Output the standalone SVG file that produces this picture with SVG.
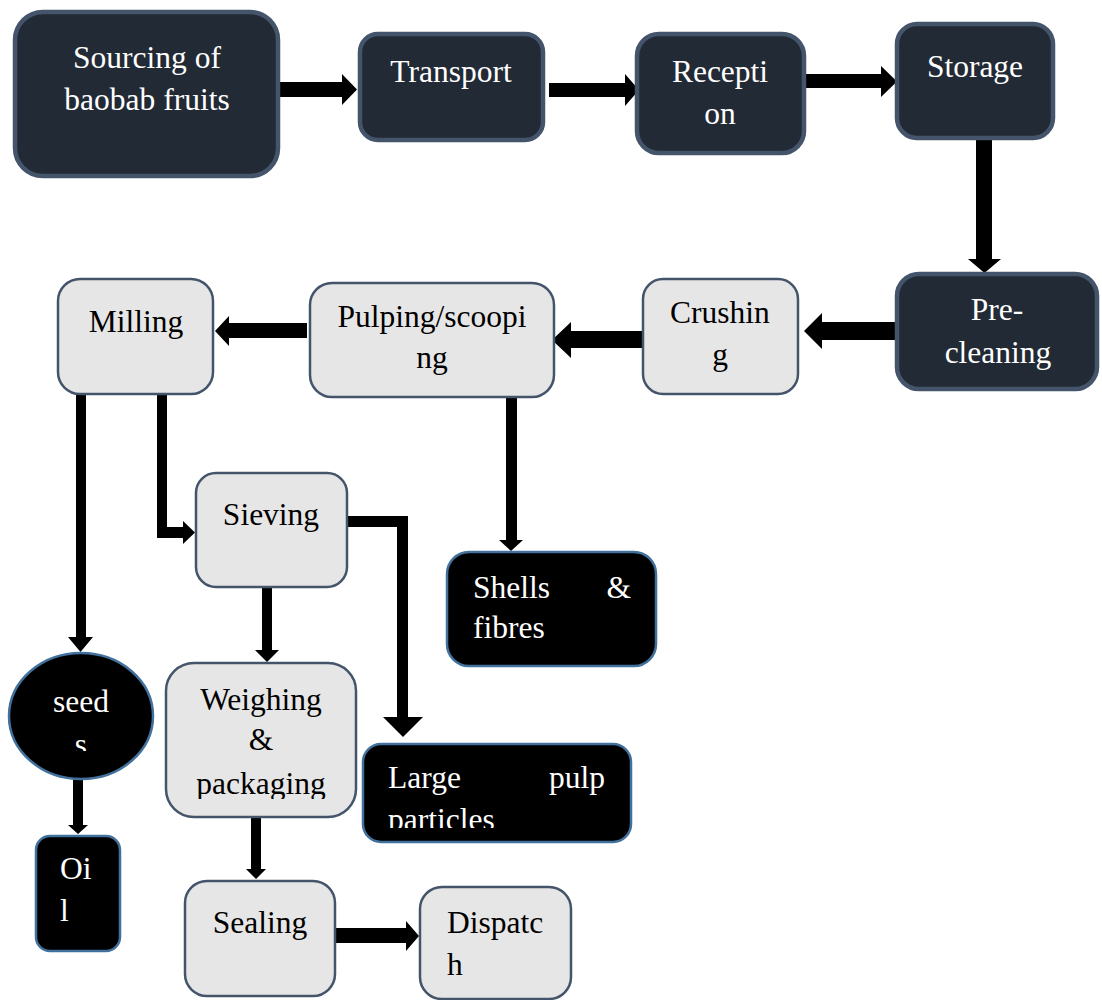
<svg xmlns="http://www.w3.org/2000/svg" width="1102" height="1000" viewBox="0 0 1102 1000">
<style>
  .dark rect{fill:#222A35;stroke:#44546A;stroke-width:4.5}
  .light rect{fill:#E7E6E6;stroke:#44546A;stroke-width:2.5}
  .blk rect,.blk ellipse{fill:#000;stroke:#41719C;stroke-width:2.5}
  text{font-family:"Liberation Serif","Times New Roman",serif;font-size:31.5px}
  .dark text,.blk text{fill:#FFFFFF}
  .light text{fill:#000}
  .c{text-anchor:middle}
  .e{text-anchor:end}
  #connectors path{fill:#000}
</style>
<defs>
  <clipPath id="clipSeeds"><rect x="0" y="640" width="160" height="111"/></clipPath>
  <clipPath id="clipPack"><rect x="160" y="660" width="200" height="139"/></clipPath>
  <clipPath id="clipPart"><rect x="360" y="740" width="280" height="88"/></clipPath>
</defs>
<rect width="1102" height="1000" fill="#FFFFFF"/>

<g id="connectors">
  <!-- Sourcing -> Transport -->
  <path d="M279,82 H342 V74 L357,89.5 L342,105 V97 H279 Z"/>
  <!-- Transport -> Reception -->
  <path d="M549,83 H625 V74 L639,90 L625,106 V97 H549 Z"/>
  <!-- Reception -> Storage -->
  <path d="M806,74 H881 V66 L897,81.5 L881,97 V88 H806 Z"/>
  <!-- Storage -> Pre-cleaning -->
  <path d="M976,133 V259 H968 L984.5,273 L1001,259 H992 V133 Z"/>
  <!-- Pre-cleaning -> Crushing -->
  <path d="M896,322 H822 V313 L804,331 L822,349 V340 H896 Z"/>
  <!-- Crushing -> Pulping -->
  <path d="M645,331 H571 V322 L552,340 L571,358 V348 H645 Z"/>
  <!-- Pulping -> Milling -->
  <path d="M307,323 H229 V316 L215,331 L229,346 V338 H307 Z"/>
  <!-- Milling -> seeds -->
  <path d="M76,383 H86 V637 H93 L80.5,652 L68,637 H76 Z"/>
  <!-- Milling -> Sieving -->
  <path d="M157,391 H167 V527 H183 V521 L195,532.5 L183,544 V538 H157 Z"/>
  <!-- Pulping -> Shells & fibres -->
  <path d="M506,393 H517 V540 H523 L511,551 L499,540 H506 Z"/>
  <!-- Sieving -> Large pulp particles -->
  <path d="M348,516 H408 V717 H423 L403,737 L383,717 H397 V527 H348 Z"/>
  <!-- Sieving -> Weighing -->
  <path d="M262,588 H272 V650 H279 L267,662 L255,650 H262 Z"/>
  <!-- seeds -> Oil -->
  <path d="M73,779 H83 V825 H88 L78,834 L68,825 H73 Z"/>
  <!-- Weighing -> Sealing -->
  <path d="M251,817 H261 V869 H266 L256,879 L246,869 H251 Z"/>
  <!-- Sealing -> Dispatch -->
  <path d="M331,928 H406 V921 L419,936 L406,951 V943 H331 Z"/>
</g>

<g id="sourcing" class="dark">
  <rect x="15" y="12" width="263" height="164" rx="28"/>
  <text class="c" x="147" y="68">Sourcing of</text>
  <text class="c" x="147" y="110">baobab fruits</text>
</g>
<g id="transport" class="dark">
  <rect x="360" y="34" width="183" height="106" rx="18"/>
  <text class="c" x="451" y="82">Transport</text>
</g>
<g id="reception" class="dark">
  <rect x="637" y="34" width="167" height="119" rx="22"/>
  <text class="c" x="720" y="82">Recepti</text>
  <text class="c" x="720" y="124">on</text>
</g>
<g id="storage" class="dark">
  <rect x="897" y="24" width="156" height="114" rx="20"/>
  <text class="c" x="975" y="77">Storage</text>
</g>
<g id="precleaning" class="dark">
  <rect x="897" y="274" width="200" height="115" rx="22"/>
  <text class="c" x="997" y="320">Pre-</text>
  <text class="c" x="998" y="363">cleaning</text>
</g>
<g id="crushing" class="light">
  <rect x="643" y="279" width="155" height="115" rx="20"/>
  <text class="c" x="720" y="323">Crushin</text>
  <text class="c" x="720" y="365">g</text>
</g>
<g id="pulping" class="light">
  <rect x="310" y="283" width="244" height="114" rx="22"/>
  <text class="c" x="432" y="327">Pulping/scoopi</text>
  <text class="c" x="432" y="368">ng</text>
</g>
<g id="milling" class="light">
  <rect x="58" y="279" width="155" height="115" rx="22"/>
  <text class="c" x="136" y="332">Milling</text>
</g>
<g id="sieving" class="light">
  <rect x="196" y="473" width="151" height="114" rx="20"/>
  <text class="c" x="271" y="525">Sieving</text>
</g>
<g id="shells" class="blk">
  <rect x="447" y="552" width="209" height="114" rx="22"/>
  <text x="473" y="598">Shells</text>
  <text class="e" x="631" y="598">&amp;</text>
  <text x="473" y="638">fibres</text>
</g>
<g id="seeds" class="blk">
  <ellipse cx="81" cy="716" rx="72" ry="63"/>
  <g clip-path="url(#clipSeeds)">
    <text class="c" x="81" y="712">seed</text>
    <text class="c" x="81" y="755">s</text>
  </g>
</g>
<g id="weighing" class="light">
  <rect x="166" y="663" width="190" height="154" rx="28"/>
  <g clip-path="url(#clipPack)">
    <text class="c" x="261" y="710">Weighing</text>
    <text class="c" x="261" y="750">&amp;</text>
    <text class="c" x="261" y="794">packaging</text>
  </g>
</g>
<g id="largepulp" class="blk">
  <rect x="363" y="744" width="268" height="98" rx="18"/>
  <g clip-path="url(#clipPart)">
    <text x="388" y="788">Large</text>
    <text class="e" x="605" y="788">pulp</text>
    <text x="388" y="830">particles</text>
  </g>
</g>
<g id="oil" class="blk">
  <rect x="36" y="836" width="84" height="115" rx="14"/>
  <text x="60" y="879">Oi</text>
  <text x="60" y="921">l</text>
</g>
<g id="sealing" class="light">
  <rect x="185" y="881" width="150" height="115" rx="22"/>
  <text class="c" x="260" y="933">Sealing</text>
</g>
<g id="dispatch" class="light">
  <rect x="420" y="887" width="151" height="112" rx="22"/>
  <text x="447" y="933">Dispatc</text>
  <text x="447" y="975">h</text>
</g>
</svg>
